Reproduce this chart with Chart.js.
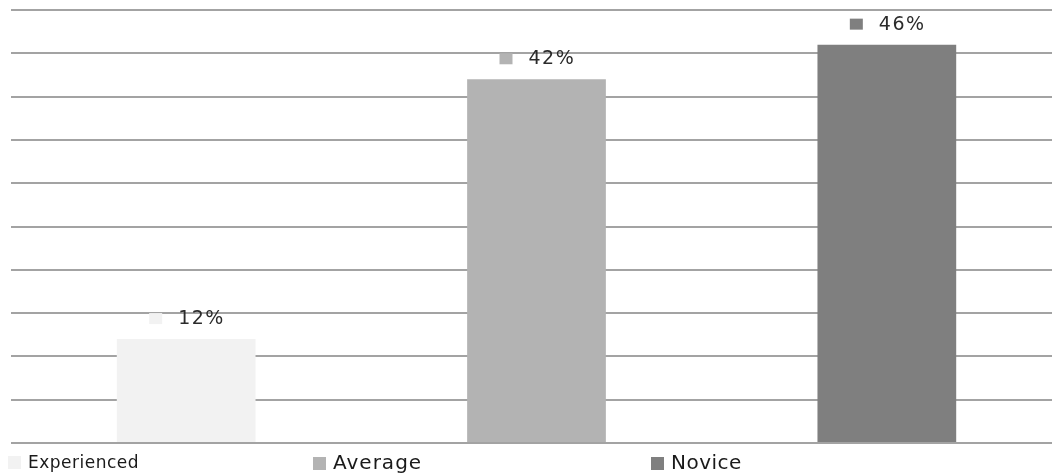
<!DOCTYPE html>
<html>
<head>
<meta charset="utf-8">
<script src="https://cdn.jsdelivr.net/npm/chart.js@4"></script>
<style>
  html, body { margin: 0; padding: 0; background: #fff; overflow: hidden; }
  #wrap { position: absolute; left: 0; top: 0; width: 1066px; height: 475px; }
  .leg { position: absolute; top: 452px; font-family: "DejaVu Sans", sans-serif; color: #1a1a1a; white-space: nowrap; line-height: 20px; }
  .leg i { display: inline-block; width: 13px; height: 13px; vertical-align: -1px; margin-right: 7px; }
</style>
</head>
<body>
<div id="wrap"><canvas id="skillChart"></canvas></div>
<div id="legend"></div>
<script>
var levels = ['Experienced', 'Average', 'Novice'];
var shares = [12, 42, 46];
var barColors = ['#f2f2f2', '#b3b3b3', '#7f7f7f'];
var yTicks = [0, 5, 10, 15, 20, 25, 30, 35, 40, 45, 50];

// legend placement (style only)
var legendLeft = [8, 313, 651];
var legendFont = [[17, 0.5], [20, 1], [20, 0.5]];

document.addEventListener("DOMContentLoaded", function () {
    var ctx = document.getElementById('skillChart').getContext('2d');

    // ラベル: 色付き四角 + 値
    var barLabels = {
        id: 'barLabels',
        afterDatasetsDraw: function (chart) {
            var c = chart.ctx;
            var meta = chart.getDatasetMeta(0);
            c.save();
            c.font = '19px "DejaVu Sans"';
            c.letterSpacing = '1.5px';
            c.textBaseline = 'middle';
            c.textAlign = 'left';
            meta.data.forEach(function (bar, i) {
                var y = bar.y - 20;
                c.fillStyle = barColors[i];
                c.fillRect(bar.x - 37, y - 6, 13, 11);
                c.fillStyle = '#2b2b2b';
                c.fillText(shares[i] + '%', bar.x - 8, y);
            });
            c.restore();
        }
    };

    new Chart(ctx, {
        type: 'bar',
        data: {
            labels: levels,
            datasets: [{
                label: 'Share',
                data: shares,
                backgroundColor: barColors,
                borderWidth: 0,
                categoryPercentage: 1,
                barPercentage: 0.396
            }]
        },
        options: {
            responsive: true,
            maintainAspectRatio: false,
            animation: false,
            layout: { padding: { left: 11, top: 10, right: 4, bottom: 32 } },
            plugins: { legend: { display: false }, tooltip: { enabled: false } },
            scales: {
                x: { display: false },
                y: {
                    min: yTicks[0],
                    max: yTicks[yTicks.length - 1],
                    afterBuildTicks: function (axis) {
                        axis.ticks = yTicks.map(function (v) { return { value: v }; });
                    },
                    ticks: { display: false },
                    border: { display: false },
                    grid: { color: '#a3a3a3', lineWidth: 2, drawTicks: false }
                }
            }
        },
        plugins: [barLabels]
    });

    var legend = document.getElementById('legend');
    levels.forEach(function (name, i) {
        var d = document.createElement('div');
        d.className = 'leg';
        d.style.left = legendLeft[i] + 'px';
        d.style.fontSize = legendFont[i][0] + 'px';
        d.style.letterSpacing = legendFont[i][1] + 'px';
        var sq = document.createElement('i');
        sq.style.background = barColors[i];
        d.appendChild(sq);
        d.appendChild(document.createTextNode(name));
        legend.appendChild(d);
    });
});
</script>
</body>
</html>
